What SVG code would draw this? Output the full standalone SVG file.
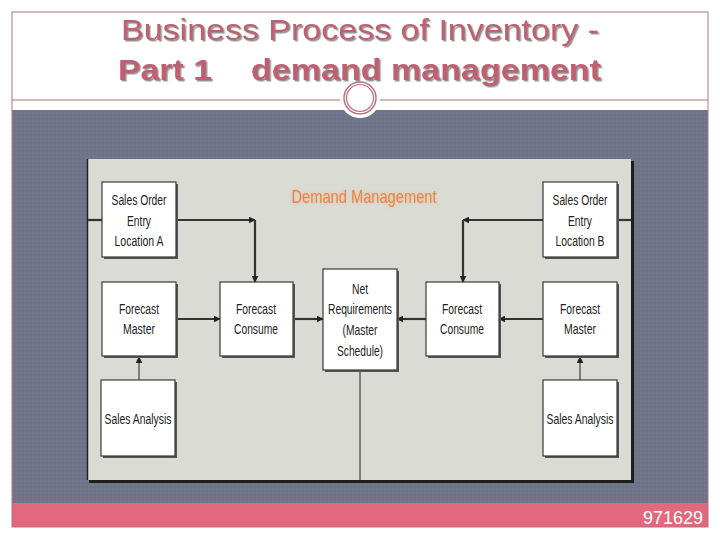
<svg xmlns="http://www.w3.org/2000/svg" width="720" height="540" viewBox="0 0 720 540">
<defs>
<filter id="tsh" x="-5%" y="-20%" width="110%" height="150%">
<feDropShadow dx="1.5" dy="1.5" stdDeviation="0.6" flood-color="#777" flood-opacity="0.8"/>
</filter>
<filter id="osh" x="-10%" y="-30%" width="120%" height="160%">
<feDropShadow dx="0" dy="0" stdDeviation="1.5" flood-color="#f5b080" flood-opacity="0.9"/>
</filter>
<marker id="ah" viewBox="0 0 10 10" refX="9" refY="5" markerWidth="7" markerHeight="7" orient="auto" markerUnits="userSpaceOnUse">
<path d="M0,0 L10,5 L0,10 z" fill="#222"/>
</marker>
<pattern id="grain" width="4" height="4" patternUnits="userSpaceOnUse">
<rect width="4" height="4" fill="#6e7387"/>
<rect width="2" height="2" fill="#737890"/>
</pattern>
</defs>
<style>
.title{font-family:"Liberation Sans",Arial,sans-serif;font-size:29px;fill:#bf5f70}
.box{fill:#ffffff;stroke:#3a3a3a;stroke-width:1.2}
.bsh{fill:#555}
.lbl{font-family:"Liberation Sans",Arial,sans-serif;font-size:15.5px;fill:#222;text-anchor:middle}
.ln{fill:none;stroke:#333;stroke-width:2.2}
.thin{fill:none;stroke:#222;stroke-width:1}
</style>
<rect width="720" height="540" fill="#ffffff"/>
<!-- frame -->
<rect x="12" y="110" width="696" height="393" fill="url(#grain)"/>
<rect x="12" y="503" width="696" height="24" fill="#e2697d"/>
<rect x="12" y="12" width="696" height="515" fill="none" stroke="#b87080" stroke-width="1"/>
<line x1="12" y1="100" x2="708" y2="100" stroke="#b87080" stroke-width="1"/>
<circle cx="360" cy="98" r="20" fill="#ffffff"/>
<circle cx="360" cy="98" r="16" fill="#ffffff" stroke="#b87080" stroke-width="1.5"/>
<circle cx="360" cy="98" r="13.5" fill="none" stroke="#b87080" stroke-width="1.2"/>
<g id="title" filter="url(#tsh)">
<text class="title" x="360" y="40" text-anchor="middle" textLength="478" lengthAdjust="spacingAndGlyphs">Business Process of Inventory -</text>
<text class="title" x="118" y="80" font-weight="bold" textLength="94" lengthAdjust="spacingAndGlyphs">Part 1</text>
<text class="title" x="251" y="80" font-weight="bold" textLength="350" lengthAdjust="spacingAndGlyphs">demand management</text>
</g>
<text x="703" y="524" text-anchor="end" font-family="'Liberation Sans',Arial,sans-serif" font-size="18" fill="#ffffff">971629</text>
<!-- diagram panel -->
<rect x="89" y="161" width="545" height="322" fill="#1e1e1e"/>
<rect x="87" y="159" width="544" height="321" fill="#d9dbd4"/>
<line x1="87.5" y1="159" x2="87.5" y2="480" stroke="#222" stroke-width="1.5"/>
<text x="364" y="203" text-anchor="middle" font-family="'Liberation Sans',Arial,sans-serif" font-size="19" fill="#e0884e" filter="url(#osh)" textLength="145" lengthAdjust="spacingAndGlyphs">Demand Management</text>
<!-- connectors -->
<g id="connectors">
<line class="ln" x1="88" y1="220" x2="102" y2="220"/>
<line class="ln" x1="617" y1="220" x2="631" y2="220"/>
<path class="ln" d="M176,220 H255" marker-end="url(#ah)"/>
<path class="ln" d="M255,220 V282" marker-end="url(#ah)"/>
<path class="ln" d="M543,220 H463" marker-end="url(#ah)"/>
<path class="ln" d="M463,220 V282" marker-end="url(#ah)"/>
<path class="ln" d="M176,319 H220" marker-end="url(#ah)"/>
<path class="ln" d="M293,319 H323" marker-end="url(#ah)"/>
<path class="ln" d="M543,319 H499" marker-end="url(#ah)"/>
<path class="ln" d="M426,319 H397" marker-end="url(#ah)"/>
<path class="thin" d="M139,380 V357" marker-end="url(#ah)"/>
<path class="thin" d="M580,380 V357" marker-end="url(#ah)"/>
<line class="thin" x1="360" y1="370" x2="360" y2="480"/>
</g>
<g id="salesOrderA">
<rect class="bsh" x="104" y="184" width="74" height="75"/>
<rect class="box" x="102" y="182" width="74" height="75"/>
<text class="lbl" x="139" y="205" textLength="55" lengthAdjust="spacingAndGlyphs">Sales Order</text>
<text class="lbl" x="139" y="226" textLength="24" lengthAdjust="spacingAndGlyphs">Entry</text>
<text class="lbl" x="139" y="246" textLength="49" lengthAdjust="spacingAndGlyphs">Location A</text>
</g>
<g id="forecastMasterA">
<rect class="bsh" x="104" y="284" width="74" height="74"/>
<rect class="box" x="102" y="282" width="74" height="74"/>
<text class="lbl" x="139" y="314" textLength="40" lengthAdjust="spacingAndGlyphs">Forecast</text>
<text class="lbl" x="139" y="334" textLength="32" lengthAdjust="spacingAndGlyphs">Master</text>
</g>
<g id="salesAnalysisA">
<rect class="bsh" x="103" y="382" width="74" height="76"/>
<rect class="box" x="101" y="380" width="74" height="76"/>
<text class="lbl" x="138" y="424" textLength="67" lengthAdjust="spacingAndGlyphs">Sales Analysis</text>
</g>
<g id="forecastConsumeA">
<rect class="bsh" x="222" y="284" width="73" height="74"/>
<rect class="box" x="220" y="282" width="73" height="74"/>
<text class="lbl" x="256" y="314" textLength="40" lengthAdjust="spacingAndGlyphs">Forecast</text>
<text class="lbl" x="256" y="334" textLength="44" lengthAdjust="spacingAndGlyphs">Consume</text>
</g>
<g id="netRequirements">
<rect class="bsh" x="325" y="271" width="74" height="101"/>
<rect class="box" x="323" y="269" width="74" height="101"/>
<text class="lbl" x="360" y="294" textLength="16" lengthAdjust="spacingAndGlyphs">Net</text>
<text class="lbl" x="360" y="314" textLength="64" lengthAdjust="spacingAndGlyphs">Requirements</text>
<text class="lbl" x="360" y="335" textLength="35" lengthAdjust="spacingAndGlyphs">(Master</text>
<text class="lbl" x="360" y="356" textLength="46" lengthAdjust="spacingAndGlyphs">Schedule)</text>
</g>
<g id="forecastConsumeB">
<rect class="bsh" x="428" y="284" width="73" height="74"/>
<rect class="box" x="426" y="282" width="73" height="74"/>
<text class="lbl" x="462" y="314" textLength="40" lengthAdjust="spacingAndGlyphs">Forecast</text>
<text class="lbl" x="462" y="334" textLength="44" lengthAdjust="spacingAndGlyphs">Consume</text>
</g>
<g id="salesOrderB">
<rect class="bsh" x="545" y="184" width="74" height="75"/>
<rect class="box" x="543" y="182" width="74" height="75"/>
<text class="lbl" x="580" y="205" textLength="55" lengthAdjust="spacingAndGlyphs">Sales Order</text>
<text class="lbl" x="580" y="226" textLength="24" lengthAdjust="spacingAndGlyphs">Entry</text>
<text class="lbl" x="580" y="246" textLength="49" lengthAdjust="spacingAndGlyphs">Location B</text>
</g>
<g id="forecastMasterB">
<rect class="bsh" x="545" y="284" width="74" height="74"/>
<rect class="box" x="543" y="282" width="74" height="74"/>
<text class="lbl" x="580" y="314" textLength="40" lengthAdjust="spacingAndGlyphs">Forecast</text>
<text class="lbl" x="580" y="334" textLength="32" lengthAdjust="spacingAndGlyphs">Master</text>
</g>
<g id="salesAnalysisB">
<rect class="bsh" x="545" y="382" width="74" height="76"/>
<rect class="box" x="543" y="380" width="74" height="76"/>
<text class="lbl" x="580" y="424" textLength="67" lengthAdjust="spacingAndGlyphs">Sales Analysis</text>
</g>
</svg>
